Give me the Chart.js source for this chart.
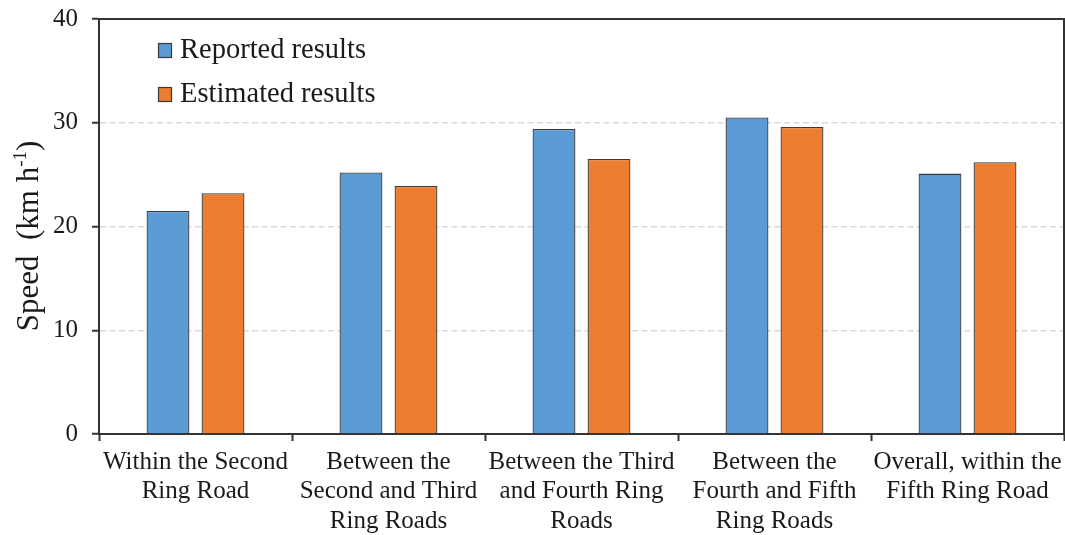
<!DOCTYPE html>
<html>
<head>
<meta charset="utf-8">
<script src="https://cdn.jsdelivr.net/npm/chart.js@4/dist/chart.umd.min.js"></script>
<style>
html,body{margin:0;padding:0;background:#fff;}
#wrap{width:1065px;height:535px;position:relative;}
</style>
</head>
<body>
<div id="wrap"><canvas id="c" width="1065" height="535"></canvas></div>
<script>
const categories = [
  ["Within the Second", "Ring Road"],
  ["Between the", "Second and Third", "Ring Roads"],
  ["Between the Third", "and Fourth Ring", "Roads"],
  ["Between the", "Fourth and Fifth", "Ring Roads"],
  ["Overall, within the", "Fifth Ring Road"]
];
const reported = [21.5, 25.2, 29.4, 30.5, 25.1];
const estimated = [23.2, 23.9, 26.5, 29.6, 26.2];
const seriesNames = ["Reported results", "Estimated results"];
const yTicks = [0, 10, 20, 30, 40];

const FONT = "'Liberation Serif', 'Times New Roman', serif";
const AXIS = '#333333';
const TEXT = '#1a1a1a';

const framePlugin = {
  id: 'frame',
  afterDraw(chart) {
    const {ctx, chartArea: a} = chart;
    ctx.save();
    ctx.strokeStyle = AXIS;
    ctx.lineWidth = 2;
    ctx.beginPath();
    ctx.moveTo(a.left, a.top);
    ctx.lineTo(a.right, a.top);
    ctx.lineTo(a.right, a.bottom);
    ctx.stroke();
    // legend
    ctx.font = "28.5px " + FONT;
    ctx.textBaseline = 'middle';
    chart.data.datasets.forEach((ds, i) => {
      const y = 50 + i * 44;
      const x = 158;
      ctx.fillStyle = ds.backgroundColor;
      ctx.fillRect(x, y - 7, 14, 15);
      ctx.strokeStyle = '#3a3a3a';
      ctx.lineWidth = 1.2;
      ctx.strokeRect(x + 0.5, y - 6.5, 13, 14);
      ctx.fillStyle = TEXT;
      ctx.fillText(ds.label, 180, y + 1);
    });
    // y title with superscript
    ctx.translate(38, 236);
    ctx.rotate(-Math.PI / 2);
    ctx.fillStyle = TEXT;
    ctx.textBaseline = 'alphabetic';
    const main = "Speed  (km h";
    const sup = "-1";
    const end = ")";
    ctx.font = "31px " + FONT;
    const w1 = ctx.measureText(main).width;
    const w3 = ctx.measureText(end).width;
    ctx.font = "19px " + FONT;
    const w2 = ctx.measureText(sup).width;
    const total = w1 + w2 + w3;
    let x0 = -total / 2;
    ctx.font = "31px " + FONT;
    ctx.fillText(main, x0, 0);
    ctx.font = "19px " + FONT;
    ctx.fillText(sup, x0 + w1, -12);
    ctx.font = "31px " + FONT;
    ctx.fillText(end, x0 + w1 + w2, 0);
    ctx.restore();
  }
};

new Chart(document.getElementById('c'), {
  type: 'bar',
  data: {
    labels: categories,
    datasets: [
      {label: seriesNames[0], data: reported, backgroundColor: '#5B9BD5', borderColor: '#3a3a3a', borderWidth: 1.3},
      {label: seriesNames[1], data: estimated, backgroundColor: '#ED7D31', borderColor: '#3a3a3a', borderWidth: 1.3}
    ]
  },
  options: {
    responsive: false,
    animation: false,
    devicePixelRatio: 1,
    layout: {padding: {top: 19, right: 1, left: 0, bottom: 0}},
    datasets: {bar: {categoryPercentage: 0.57, barPercentage: 0.78}},
    plugins: {legend: {display: false}, tooltip: {enabled: false}},
    scales: {
      x: {
        afterFit(s) { s.height = 101; s.paddingLeft = 0; s.paddingRight = 0; },
        grid: {display: true, offset: true, drawOnChartArea: false, tickLength: 7, tickColor: AXIS, tickWidth: 2},
        border: {display: true, color: AXIS, width: 2},
        ticks: {color: TEXT, font: {family: FONT, size: 25, lineHeight: 1.17}, padding: 7, maxRotation: 0, autoSkip: false}
      },
      y: {
        min: 0, max: 40,
        afterFit(s) { s.width = 99; s.paddingTop = 0; s.paddingBottom = 0; },
        afterBuildTicks(s) { s.ticks = yTicks.map(v => ({value: v})); },
        grid: {
          color: ctx => (ctx.tick && (ctx.tick.value === 0 || ctx.tick.value === 40)) ? 'rgba(0,0,0,0)' : '#d9d9d9',
          lineWidth: 1.5,
          tickBorderDash: [],
          tickColor: AXIS,
          tickWidth: 2,
          tickLength: 7
        },
        border: {display: true, color: AXIS, width: 2, dash: [6, 3.5]},
        ticks: {color: TEXT, font: {family: FONT, size: 25}, padding: 14}
      }
    }
  },
  plugins: [framePlugin]
});
</script>
</body>
</html>
